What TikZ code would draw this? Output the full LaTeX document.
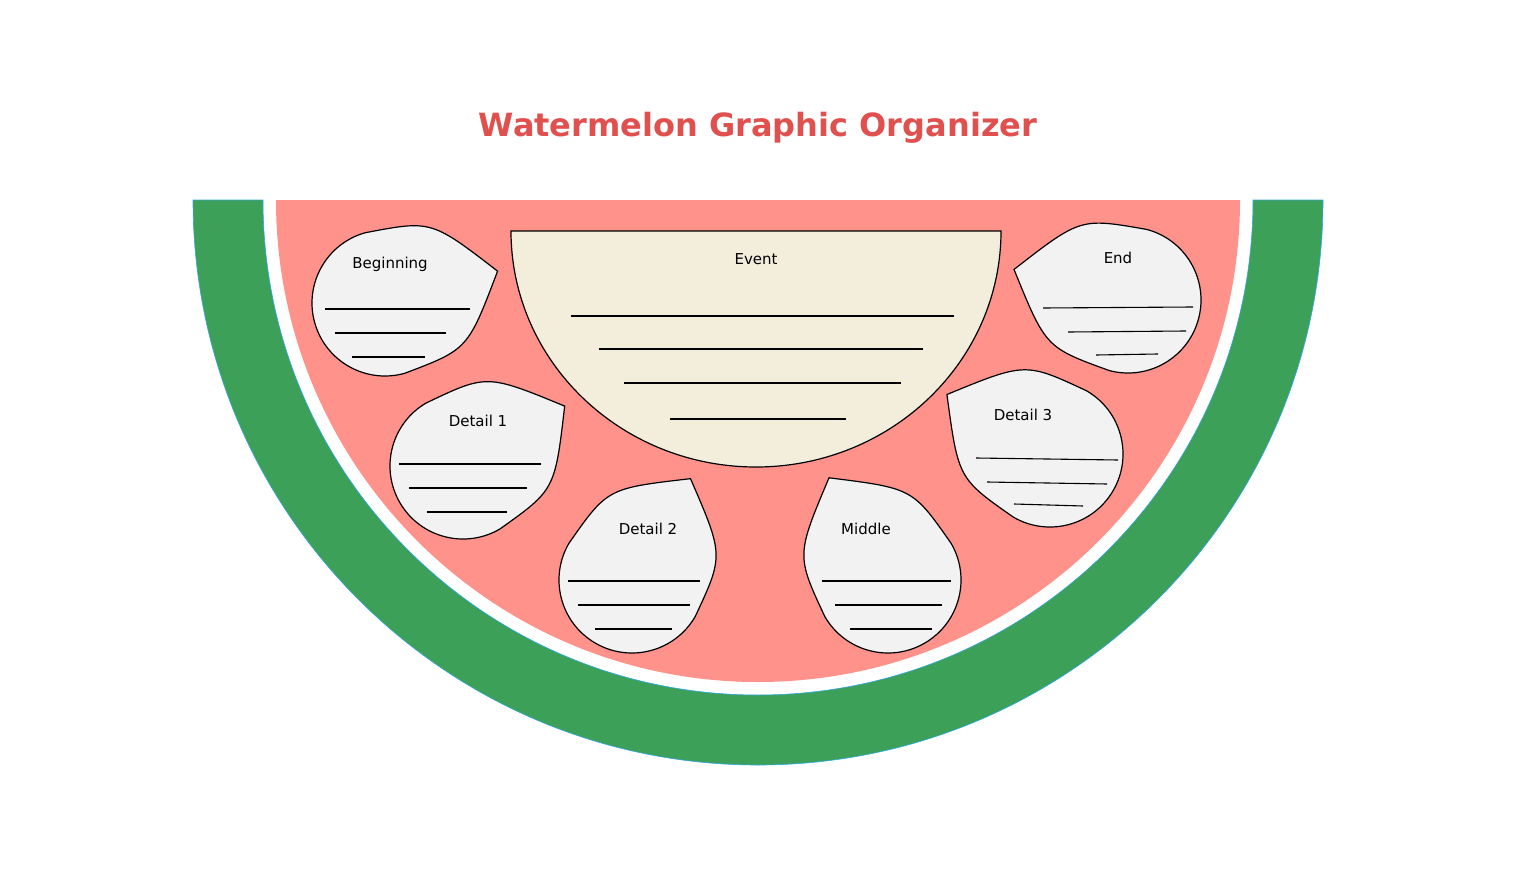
\documentclass[tikz,border=0pt]{standalone}
\usepackage{fontspec}
\setmainfont{DejaVu Sans}
\usetikzlibrary{calc}
\definecolor{rind}{HTML}{3DA058}
\definecolor{flesh}{HTML}{FF928A}
\definecolor{eventfill}{HTML}{F3EEDC}
\definecolor{dropfill}{HTML}{F2F2F2}
\definecolor{titlered}{HTML}{E0504E}
\definecolor{edgeblue}{HTML}{2FA8E0}

\tikzset{
  dropshape/.style={draw=black, fill=dropfill, line width=1.2pt},
  writeline/.style={draw=black, line width=1.1pt},
  lbl/.style={font=\fontsize{15}{18}\selectfont},
}
% drop: centre x, centre y, tip angle, tip distance
\newcommand\drop[4]{%
  \draw[dropshape] ($(#1,#2)+(#3:#4)$) .. controls ($(#1,#2)+(#3+45:95)$) .. ($(#1,#2)+(#3+90:73)$)
    arc[start angle=#3+90, end angle=#3+270, radius=73]
    .. controls ($(#1,#2)+(#3-45:95)$) .. ($(#1,#2)+(#3:#4)$) -- cycle;}

\begin{document}
\begin{tikzpicture}[x=1pt,y=1pt]
    \useasboundingbox (0,0) rectangle (1516,-872);
     \node[font=\fontsize{32}{38}\selectfont\bfseries, text=titlered] (title) at (758,-128) {Watermelon Graphic Organizer};

     % rind and flesh
     \filldraw[fill=rind, draw=edgeblue, line width=0.6pt] (193,-200) arc[start angle=180, end angle=360, radius=565]
        -- (1253,-200) arc[start angle=0, end angle=-180, radius=495] -- cycle;
     \fill[flesh] (276,-200) arc[start angle=180, end angle=360, radius=482] -- cycle;

     % event
     \filldraw[fill=eventfill, draw=black, line width=1.2pt] (511,-231) arc[start angle=180, end angle=360, x radius=245, y radius=236] -- cycle;
     \node[lbl] (event) at (756,-259) {Event};
     \draw[writeline] (571,-316) -- (954,-316);
     \draw[writeline] (599,-349) -- (923,-349);
     \draw[writeline] (624,-383) -- (901,-383);
     \draw[writeline] (670,-419) -- (846,-419);

     % drops
     \drop{385}{-303}{15.8}{117}
     \drop{463}{-466}{30.5}{118}
     \drop{632}{-580}{60}{117}
     \drop{888}{-580}{120}{118}
     \drop{1050}{-454}{150}{119}
     \drop{1128}{-300}{165}{118}

     \node[lbl] (beginning) at (390,-264) {Beginning};
     \node[lbl] (detaila) at (478,-421) {Detail 1};
     \node[lbl] (detailb) at (648,-529) {Detail 2};
     \node[lbl] (middle) at (866,-529) {Middle};
     \node[lbl] (detailc) at (1023,-415) {Detail 3};
     \node[lbl] (end) at (1118,-258) {End};

     \draw[writeline] (325,-309) -- (470,-309);
     \draw[writeline] (335,-333) -- (446,-333);
     \draw[writeline] (352,-357) -- (425,-357);
     \draw[writeline] (399,-464) -- (541,-464);
     \draw[writeline] (409,-488) -- (527,-488);
     \draw[writeline] (427,-512) -- (507,-512);
     \draw[writeline] (568,-581) -- (700,-581);
     \draw[writeline] (578,-605) -- (690,-605);
     \draw[writeline] (595,-629) -- (672,-629);
     \draw[writeline] (822,-581) -- (951,-581);
     \draw[writeline] (835,-605) -- (942,-605);
     \draw[writeline] (850,-629) -- (932,-629);
     \draw[writeline] (976,-458) -- (1118,-460);
     \draw[writeline] (987,-482) -- (1107,-484);
     \draw[writeline] (1014,-504) -- (1083,-506);
     \draw[writeline] (1043,-308) -- (1193,-307);
     \draw[writeline] (1068,-332) -- (1186,-331);
     \draw[writeline] (1096,-355) -- (1158,-354);
    \end{tikzpicture}
\end{document}
